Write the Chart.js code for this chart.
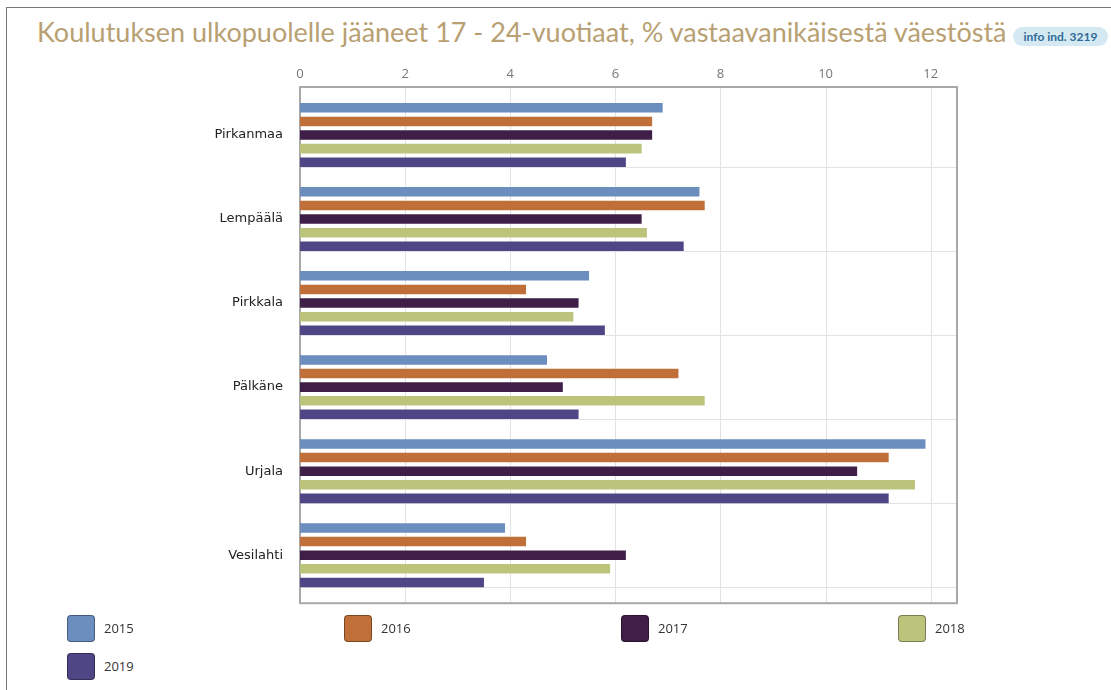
<!DOCTYPE html>
<html lang="fi">
<head>
<meta charset="utf-8">
<title>Koulutuksen ulkopuolelle jääneet 17 - 24-vuotiaat</title>
<script src="https://cdn.jsdelivr.net/npm/chart.js@4/dist/chart.umd.min.js"></script>
<style>
  body { margin: 0; background: #fff; width: 1111px; height: 690px; overflow: hidden; position: relative; font-family: "Open Sans", sans-serif; }
  #kehys { position: absolute; left: 6px; top: 7px; width: 1200px; height: 800px; border: 1px solid #777; }
  #otsikko { position: absolute; left: 37px; top: 15px; font-family: Lato, sans-serif; font-size: 27px; color: #b8a072; white-space: nowrap; }
  #info { position: absolute; left: 1013px; top: 27px; width: 95px; height: 19px; line-height: 19px; border-radius: 10px;
          background: #d5e9f3; color: #2f6b97; font-family: Lato, sans-serif; font-weight: bold; font-size: 12px; text-align: center; }
  #kuvio { position: absolute; left: 0; top: 50px; }
  .selite { position: absolute; font-size: 13px; color: #333; }
  .selite span { position: absolute; left: 0; top: 0; width: 26px; height: 25px; border-radius: 4px; border: 1px solid rgba(0,0,0,0.35); }
  .selite b { position: absolute; left: 37px; top: 4px; font-weight: normal; }
</style>
</head>
<body>
<div id="kehys"></div>
<div id="otsikko">Koulutuksen ulkopuolelle jääneet 17 - 24-vuotiaat, % vastaavanikäisestä väestöstä</div>
<div id="info">info ind. 3219</div>
<canvas id="kuvio" width="1111" height="572"></canvas>
<div id="selitteet"></div>
<script>
const kunnat = ["Pirkanmaa", "Lempäälä", "Pirkkala", "Pälkäne", "Urjala", "Vesilahti"];
const vuodet = ["2015", "2016", "2017", "2018", "2019"];
const arvot2015 = [6.9, 7.6, 5.5, 4.7, 11.9, 3.9];
const arvot2016 = [6.7, 7.7, 4.3, 7.2, 11.2, 4.3];
const arvot2017 = [6.7, 6.5, 5.3, 5.0, 10.6, 6.2];
const arvot2018 = [6.5, 6.6, 5.2, 7.7, 11.7, 5.9];
const arvot2019 = [6.2, 7.3, 5.8, 5.3, 11.2, 3.5];
const xTicks = [0, 2, 4, 6, 8, 10, 12];
const varit = ["#6b8ebf", "#bf6f37", "#3f1e48", "#bcc47c", "#4f4686"];

const sarjat = [arvot2015, arvot2016, arvot2017, arvot2018, arvot2019];
const reuna = 6; // kehys hieman kuva-alueen ulkopuolella

// ruudukko ja kehys
const kehysPlugin = {
  id: "kehys",
  beforeDatasetsDraw(chart) {
    const a = chart.chartArea;
    const ctx = chart.ctx;
    const x = chart.scales.x;
    const top = a.top - reuna, bottom = a.bottom + reuna;
    ctx.save();
    ctx.strokeStyle = "#e2e2e6";
    ctx.lineWidth = 1;
    xTicks.forEach(t => {
      const px = Math.round(x.getPixelForValue(t)) + 0.5;
      ctx.beginPath();
      ctx.moveTo(px, top);
      ctx.lineTo(px, bottom);
      ctx.stroke();
    });
    // vaakaviiva jokaisen ryhmän alle
    const viimeinen = chart.getDatasetMeta(chart.data.datasets.length - 1);
    viimeinen.data.forEach(el => {
      const py = Math.round(el.y + el.height / 2) + 0.5;
      ctx.beginPath();
      ctx.moveTo(a.left, py);
      ctx.lineTo(a.right, py);
      ctx.stroke();
    });
    ctx.strokeStyle = "#a8a8a8";
    ctx.lineWidth = 2;
    ctx.strokeRect(a.left, top, a.right - a.left, bottom - top);
    ctx.restore();
  }
};

new Chart(document.getElementById("kuvio"), {
  type: "bar",
  data: {
    labels: kunnat,
    datasets: vuodet.map((v, i) => ({
      label: v,
      data: sarjat[i],
      backgroundColor: varit[i],
      categoryPercentage: 0.81,
      barPercentage: 0.7
    }))
  },
  options: {
    indexAxis: "y",
    responsive: false,
    animation: false,
    devicePixelRatio: 1,
    layout: { padding: { left: 0, right: 154, top: 0, bottom: 13 } },
    plugins: { legend: { display: false }, tooltip: { enabled: false } },
    scales: {
      x: {
        position: "top",
        min: 0,
        max: 12.5,
        afterBuildTicks: axis => { axis.ticks = xTicks.map(t => ({ value: t })); },
        afterFit: axis => { axis.height = 43; },
        ticks: { color: "#777", font: { family: "Open Sans", size: 13 }, padding: 11 },
        grid: { display: false, drawTicks: false },
        border: { display: false }
      },
      y: {
        afterFit: axis => { axis.width = 300; },
        ticks: { color: "#222", font: { family: "DejaVu Sans", size: 13 }, padding: 17 },
        grid: { display: false, drawTicks: false },
        border: { display: false }
      }
    }
  },
  plugins: [kehysPlugin]
});

// selitteet: 4 saraketta
const selitteet = document.getElementById("selitteet");
vuodet.forEach((v, i) => {
  const d = document.createElement("div");
  d.className = "selite";
  d.style.left = (67 + (i % 4) * 277) + "px";
  d.style.top = (615 + Math.floor(i / 4) * 38) + "px";
  d.innerHTML = `<span style="background:${varit[i]}"></span><b>${v}</b>`;
  selitteet.appendChild(d);
});
</script>
</body>
</html>
